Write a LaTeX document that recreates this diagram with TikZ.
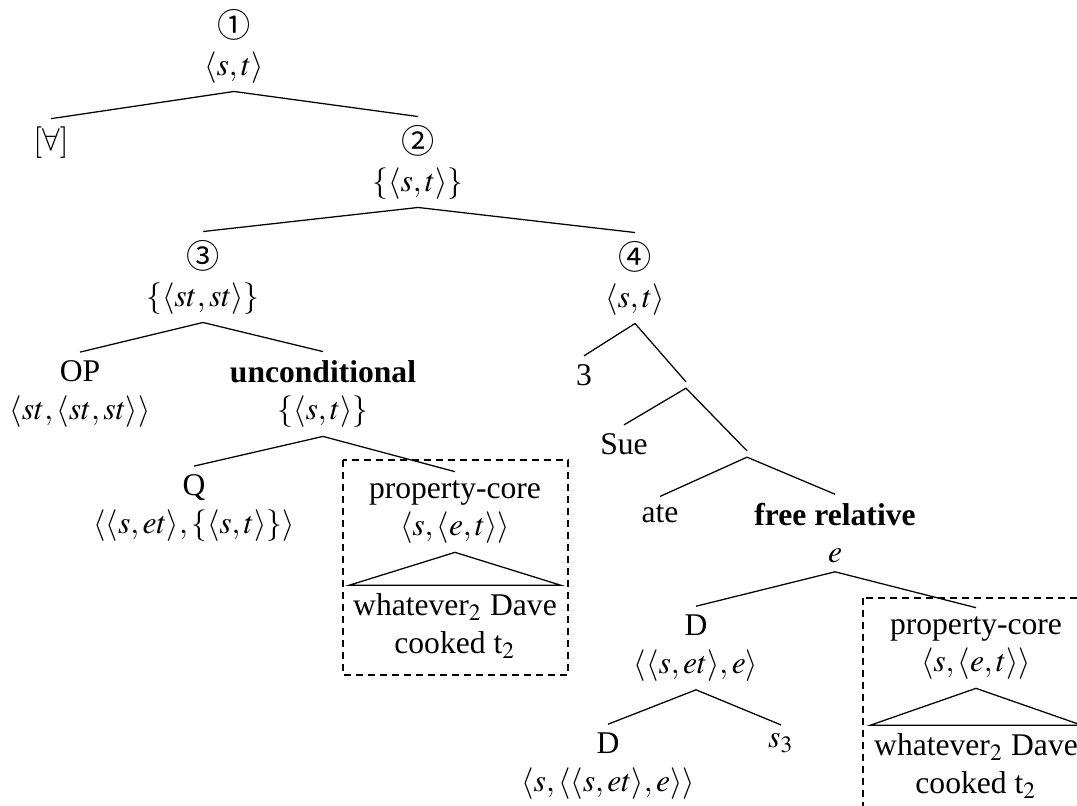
\documentclass[tikz,border=0pt]{standalone}
\usepackage{mathptmx}
\usepackage[no-math]{fontspec}
\setmainfont{Liberation Serif}
\newfontfamily\circfont{Noto Sans CJK SC}
\newcommand{\circnum}[1]{{\circfont\fontsize{10.5}{12}\selectfont #1}}

\begin{document}
\begin{tikzpicture}[x=0.3165pt, y=-0.3165pt,
  every node/.style={align=center, inner sep=2.5pt},
  bare/.style={inner sep=0.8pt},
  roof/.style={inner xsep=1pt},
  dashbox/.style={dash pattern=on 2.2pt off 1.6pt}]
  \useasboundingbox (0,0) rectangle (1077,805);

  % root
  \node (n1) at (234,46) {\circnum{①}\\$\langle s,t\rangle$};
  \node (all) at (51,143) {$[\forall]$};
  \node (n2) at (418,162) {\circnum{②}\\$\{\langle s,t\rangle\}$};
  \draw (n1.south) -- (all.north);
  \draw (n1.south) -- (n2.north);

  % left half
  \node (n3) at (203,277) {\circnum{③}\\$\{\langle st,st\rangle\}$};
  \node (op) at (80,394) {OP\\$\langle st,\langle st,st\rangle\rangle$};
  \node (uncond) at (323,394) {\textbf{unconditional}\\$\{\langle s,t\rangle\}$};
  \node (q) at (194,508) {Q\\$\langle\langle s,et\rangle,\{\langle s,t\rangle\}\rangle$};
  \node (core1) at (455,512) {property-core\\$\langle s,\langle e,t\rangle\rangle$};
  \node[roof] (wd1) at (455,626) {whatever$_2$ Dave\\cooked t$_2$};
  \draw (n2.south) -- (n3.north);
  \draw (n3.south) -- (op.north);
  \draw (n3.south) -- (uncond.north);
  \draw (uncond.south) -- (q.north);
  \draw (uncond.south) -- (core1.north);
  \draw (core1.south) -- (wd1.north west) -- (wd1.north east) -- cycle;
  \draw[dashbox] (343,460) rectangle (568,675);

  % right half
  \node (n4) at (635,278) {\circnum{④}\\$\langle s,t\rangle$};
  \node (three) at (584,375) {3};
  \node[bare] (x1) at (686,385) {};
  \node (sue) at (624,444) {Sue};
  \node[bare] (x2) at (747,454) {};
  \node (ate) at (660,514) {ate};
  \node (free) at (835,533) {\textbf{free relative}\\$e$};
  \draw (n2.south) -- (n4.north);
  \draw (n4.south) -- (three.north);
  \draw (n4.south) -- (x1.north);
  \draw (x1.south) -- (sue.north);
  \draw (x1.south) -- (x2.north);
  \draw (x2.south) -- (ate.north);
  \draw (x2.south) -- (free.north);

  % free relative
  \node (d1) at (696,648) {D\\$\langle\langle s,et\rangle,e\rangle$};
  \node (core2) at (976,648) {property-core\\$\langle s,\langle e,t\rangle\rangle$};
  \node (d2) at (608,766) {D\\$\langle s,\langle\langle s,et\rangle,e\rangle\rangle$};
  \node (s3) at (781,743) {$s_3$};
  \node[roof] (wd2) at (976,766) {whatever$_2$ Dave\\cooked t$_2$};
  \draw (free.south) -- (d1.north);
  \draw (free.south) -- (core2.north);
  \draw (d1.south) -- (d2.north);
  \draw (d1.south) -- (s3.north);
  \draw (core2.south) -- (wd2.north west) -- (wd2.north east) -- cycle;
  \draw[dashbox] (863,598) rectangle (1090,820);
\end{tikzpicture}
\end{document}
